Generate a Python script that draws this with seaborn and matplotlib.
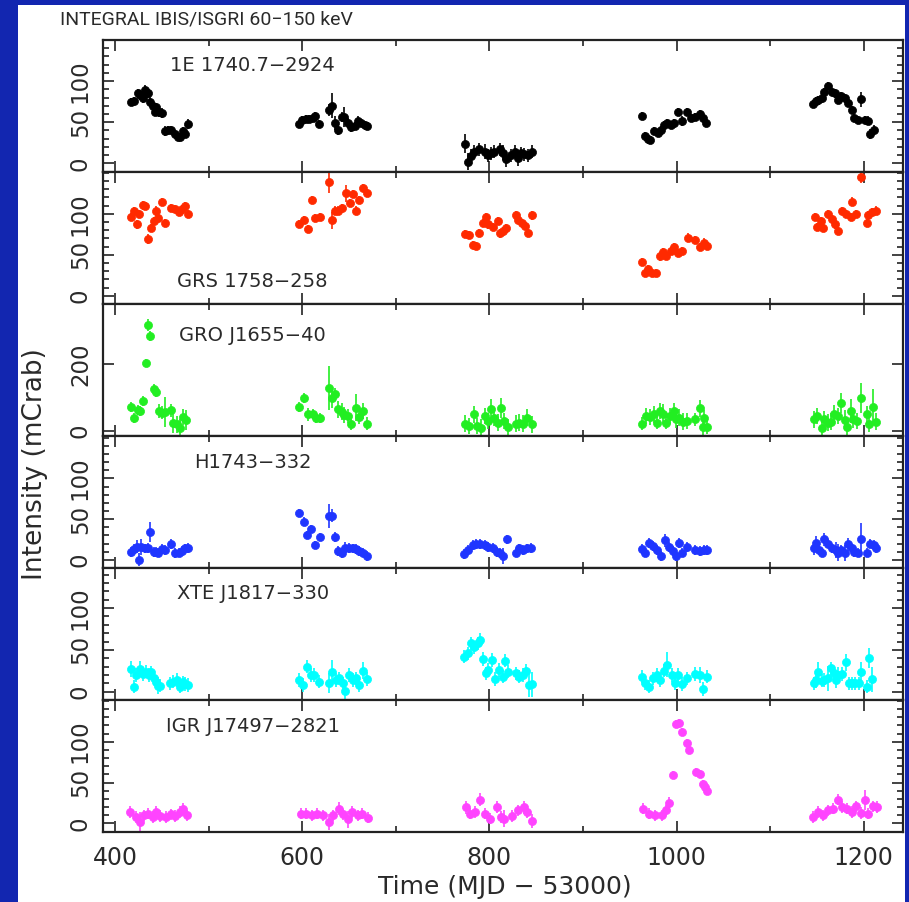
import numpy as np
import pandas as pd
import matplotlib
matplotlib.use("Agg")
import matplotlib.pyplot as plt
from matplotlib.ticker import MultipleLocator, FixedLocator
from matplotlib.patches import Rectangle
import seaborn as sns

sns.set_style("ticks")
plt.rcParams["font.family"] = ["DejaVu Sans"]

# ---------------- data ----------------
names = ["1E 1740.7\u22122924", "GRS 1758\u2212258", "GRO J1655\u221240",
         "H1743\u2212332", "XTE J1817\u2212330", "IGR J17497\u22122821"]
colors = ["#000000", "#ff2a00", "#22ee22", "#1f35ff", "#00ffff", "#ff44ff"]

t1 = [417,420,424,427,430,432,435,437,440,443,444,447,450,453,457,460,464,467,469,472,475,478,
      597,600,604,607,611,614,618,629,632,635,638,642,645,649,652,656,660,663,667,669,
      774,777,780,784,789,795,798,802,805,811,814,818,823,827,830,834,837,841,846,
      963,966,970,972,976,980,983,987,990,994,997,1002,1006,1011,1015,1020,1025,1028,1031,
      1146,1149,1151,1155,1158,1162,1166,1169,1173,1176,1180,1183,1187,1190,1194,1197,1201,1205,1207,1211]
f1 = [75,76,85,83,79,89,85,75,70,63,68,62,61,39,41,41,36,32,32,39,36,48,
      48,53,54,54,55,58,48,65,70,49,41,56,56,49,44,45,52,49,47,45,
      24,2,9,14,17,14,10,12,14,17,13,5,10,14,6,12,11,10,14,
      58,33,30,28,39,37,40,47,49,47,49,62,51,62,55,56,60,55,49,
      72,76,77,79,87,94,87,85,77,82,79,73,65,55,53,78,53,52,36,41]
e1 = [5,5,6,6,6,6,6,6,6,6,6,6,6,6,5,5,5,5,5,5,5,6,
      5,5,5,5,5,5,5,7,15,8,6,6,12,6,6,5,5,5,5,5,
      12,10,9,8,8,9,8,8,8,8,9,10,8,8,9,8,8,8,8,
      5,5,5,5,5,5,5,5,5,5,5,5,6,5,5,5,5,5,5,
      5,5,5,5,5,5,5,5,5,5,5,5,5,5,5,9,5,5,6,6]

t2 = [417,420,423,426,430,432,435,438,442,444,446,450,453,460,464,468,471,475,478,
      597,602,606,610,614,619,629,632,635,638,642,647,651,654,657,661,665,669,
      774,778,782,786,789,793,796,799,804,809,811,814,818,828,831,835,838,841,846,
      963,966,970,974,978,982,986,989,994,997,1002,1006,1012,1020,1025,1029,1032,
      1148,1150,1154,1157,1162,1166,1169,1173,1177,1181,1186,1188,1192,1197,1203,1205,1209,1213]
f2 = [96,103,87,100,111,110,69,83,91,103,95,114,89,107,106,102,106,109,100,
      88,92,81,117,95,96,139,92,104,104,107,125,113,124,104,117,131,125,
      75,74,62,61,77,89,96,87,84,91,76,79,83,99,92,89,85,77,98,
      41,28,33,28,28,48,53,49,55,59,52,55,71,68,60,65,61,
      96,84,91,83,100,94,87,79,103,100,96,115,100,145,89,98,102,104]
e2 = [5,5,5,5,5,5,6,5,5,6,5,5,5,5,5,5,5,5,5,
      5,5,5,5,5,5,14,10,5,5,5,10,5,5,5,5,5,5,
      5,5,5,5,5,5,5,5,5,5,5,5,5,5,5,5,5,5,5,
      5,5,5,5,5,5,5,5,5,5,5,5,5,5,5,5,5,
      5,5,5,5,5,5,5,5,5,5,5,6,5,8,5,5,5,5]

t3 = [417,420,424,427,430,433,435,437,442,444,447,450,453,460,462,466,469,473,476,
      597,602,606,611,615,619,629,632,635,638,642,645,649,652,657,661,665,669,
      774,778,783,787,791,795,798,802,805,809,812,816,820,828,832,836,840,846,
      963,967,972,976,979,982,986,989,993,997,999,1003,1007,1011,1020,1025,1028,1029,1032,
      1147,1150,1155,1158,1162,1165,1168,1172,1176,1180,1182,1186,1189,1193,1197,1204,1206,1210,1213]
f3 = [72,40,62,60,90,202,318,285,125,118,60,55,58,62,25,20,10,42,32,
      72,98,50,50,38,38,128,98,110,65,58,48,45,22,70,42,60,22,
      22,15,50,15,10,45,30,65,40,25,68,30,12,22,25,22,40,20,
      22,45,42,50,25,60,52,25,45,60,35,40,28,30,35,68,12,38,12,
      35,45,8,35,25,28,52,45,85,32,12,60,35,30,100,50,22,72,28]
e3 = [15,15,15,15,15,12,18,15,15,15,20,20,45,20,30,25,25,25,30,
      15,15,20,15,15,15,65,30,20,25,25,25,20,20,40,20,25,20,
      25,25,25,25,25,25,25,30,25,25,30,25,25,25,25,25,25,25,
      20,25,25,25,20,25,30,20,25,25,25,25,25,25,20,25,25,25,20,
      25,25,25,25,25,25,25,25,30,30,25,35,25,25,45,25,25,55,25]

t4 = [417,420,423,426,428,432,435,437,441,444,446,450,453,460,464,468,471,475,478,
      597,602,605,609,614,619,629,632,635,638,642,646,650,654,657,661,665,669,
      773,777,782,786,790,795,799,804,808,811,814,819,828,832,836,840,844,
      963,966,971,975,979,983,988,992,996,999,1003,1006,1011,1020,1025,1029,1032,
      1147,1149,1152,1155,1158,1162,1166,1170,1173,1176,1180,1183,1188,1190,1194,1197,1204,1207,1211,1213]
f4 = [10,13,16,0,16,14,15,34,10,10,9,13,12,19,8,9,11,14,15,
      58,47,31,38,18,28,54,54,28,11,8,14,15,14,13,11,9,5,
      7,12,18,19,19,18,16,15,10,8,5,25,9,14,12,14,15,
      13,9,21,17,12,5,24,16,11,5,21,9,16,12,11,12,12,
      14,21,12,9,25,20,14,12,9,12,8,19,14,10,9,25,9,20,18,15]
e4 = [6,6,8,8,10,6,6,12,6,6,6,6,6,6,6,6,6,6,6,
      5,5,5,5,5,5,15,8,6,6,6,8,6,6,6,6,6,6,
      6,6,6,6,6,6,6,6,6,6,10,6,6,6,6,6,6,
      6,6,6,6,6,6,8,6,6,6,6,6,6,6,6,6,6,
      8,8,6,6,8,6,6,10,10,6,10,8,6,6,6,20,6,6,6,6]

t5 = [417,420,422,427,430,433,436,438,441,444,446,448,459,462,466,469,472,475,478,
      597,601,605,609,613,618,629,632,636,639,643,646,650,654,657,661,665,669,
      773,777,780,784,788,790,793,796,799,803,806,810,814,817,820,828,832,836,839,842,846,
      963,966,971,975,979,982,987,990,995,998,1002,1006,1011,1020,1025,1028,1032,
      1147,1149,1151,1155,1158,1162,1165,1168,1170,1173,1177,1181,1184,1188,1191,1195,1197,1204,1206,1209]
f5 = [27,6,20,27,21,24,20,23,16,12,7,7,10,12,14,6,11,9,8,
      14,8,30,20,20,12,10,23,14,16,10,1,20,14,16,8,25,15,
      42,46,58,53,58,62,39,22,26,38,15,26,18,37,24,22,18,20,25,8,9,
      18,10,6,16,20,14,25,32,20,10,20,9,16,21,20,3,18,
      10,14,24,13,14,16,28,22,14,20,21,35,10,10,10,10,24,6,40,15]
e5 = [10,8,8,10,8,8,8,8,8,8,10,8,8,8,8,8,8,8,8,
      8,8,8,8,8,8,12,15,8,8,8,10,8,8,8,8,10,8,
      8,8,8,8,8,8,8,8,8,8,8,8,8,8,8,8,8,8,8,15,15,
      8,8,8,8,8,8,8,15,8,8,8,8,8,8,10,8,8,
      8,10,12,8,8,15,8,8,10,10,8,10,8,8,8,8,12,8,12,15]

t6 = [416,422,427,431,435,440,444,448,454,460,464,469,473,477,
      599,604,610,616,622,629,633,639,643,649,653,659,664,670,
      775,779,785,790,795,801,808,812,816,824,830,837,840,845,
      964,971,977,984,989,992,996,999,1003,1006,1011,1013,1021,1025,1028,1030,1032,
      1146,1151,1156,1162,1167,1173,1177,1182,1188,1192,1197,1201,1205,1210,1214]
f6 = [14,8,2,10,12,8,14,9,8,11,9,14,18,10,
      12,12,10,12,10,2,10,18,11,5,14,10,12,7,
      20,12,14,29,12,6,20,8,6,9,16,20,14,3,
      18,12,10,10,16,25,59,122,123,112,98,90,63,60,48,44,40,
      8,14,10,16,18,29,20,18,14,21,13,29,12,21,20]
e6 = [7,7,12,7,7,7,7,7,7,7,7,7,7,7,
      7,7,7,7,7,10,7,8,7,10,7,7,7,7,
      8,7,7,8,7,7,7,7,10,7,7,8,7,8,
      7,7,7,7,7,7,5,5,5,5,5,5,5,5,5,5,5,
      7,7,7,7,7,7,7,7,7,7,7,12,7,7,7]

times = [t1, t2, t3, t4, t5, t6]
fluxes = [f1, f2, f3, f4, f5, f6]
errors = [e1, e2, e3, e4, e5, e6]
ylims = [(-10.5, 150), (-10, 151), (-15, 380), (-10, 152), (-10, 148), (-10.5, 151)]
yticks_small = [0, 50, 100]
yticks_gro = [0, 200]
label_y = [0.81, 0.17, 0.76, 0.80, 0.81, 0.80]

# ---------------- figure ----------------
W, H = 909, 902
fig = plt.figure(figsize=(W / 100, H / 100), dpi=100, facecolor="#1226b0")
fig.add_artist(Rectangle((18 / W, 0), (905 - 18) / W, 1 - 5 / H,
                         transform=fig.transFigure, facecolor="white",
                         edgecolor="none", zorder=0))
axes = fig.subplots(6, 1, sharex=True, gridspec_kw=dict(hspace=0))
fig.subplots_adjust(left=103 / W, right=903 / W, bottom=(H - 832) / H, top=(H - 40) / H)

text_col = "#2a2a2a"
for i, ax in enumerate(axes):
    df = pd.DataFrame({"t": times[i], "f": fluxes[i], "e": errors[i]})
    ax.set_facecolor("white")
    ax.errorbar(df["t"], df["f"], yerr=df["e"], xerr=1.6, fmt="none",
                ecolor=colors[i], elinewidth=1.4, capsize=0, alpha=0.85, zorder=2)
    sns.scatterplot(data=df, x="t", y="f", color=colors[i], s=34,
                    edgecolor=colors[i], linewidth=0.5, ax=ax, zorder=3, legend=False)
    ax.set_xlim(387, 1242)
    ax.set_ylim(*ylims[i])
    ax.set_xlabel("")
    ax.set_ylabel("")
    ax.xaxis.set_major_locator(MultipleLocator(200))
    ax.xaxis.set_minor_locator(MultipleLocator(100))
    if i == 2:
        ax.yaxis.set_major_locator(FixedLocator(yticks_gro))
    else:
        ax.yaxis.set_major_locator(FixedLocator(yticks_small))
        ax.yaxis.set_minor_locator(MultipleLocator(10))
    ax.tick_params(which="both", direction="in", top=True, right=True,
                   color="#222222", width=1.2)
    ax.tick_params(which="major", length=8)
    ax.tick_params(which="minor", length=4)
    ax.tick_params(axis="y", which="major", labelsize=16.5, pad=8,
                   labelrotation=90, labelcolor=text_col)
    for lab in ax.get_yticklabels():
        lab.set_va("center")
    ax.tick_params(axis="x", labelsize=17, pad=10, labelcolor=text_col)
    for sp in ax.spines.values():
        sp.set_linewidth(1.6)
        sp.set_color("#222222")
    ax.text(547, label_y[i], names[i], transform=ax.get_xaxis_transform(),
            ha="center", va="center", fontsize=14, color=text_col)

fig.text(60 / W, 1 - 19 / H, "INTEGRAL IBIS/ISGRI 60\u2212150 keV", ha="left",
         va="center", fontsize=14, color=text_col, family=["Roboto", "DejaVu Sans"])
fig.text(35 / W, 1 - 464 / H, "Intensity (mCrab)", rotation=90, ha="center",
         va="center", fontsize=19, color=text_col)
fig.text(505 / W, 1 - 887 / H, "Time (MJD \u2212 53000)", ha="center",
         va="center", fontsize=18, color=text_col)

fig.savefig("out.png", dpi=100, facecolor=fig.get_facecolor())
